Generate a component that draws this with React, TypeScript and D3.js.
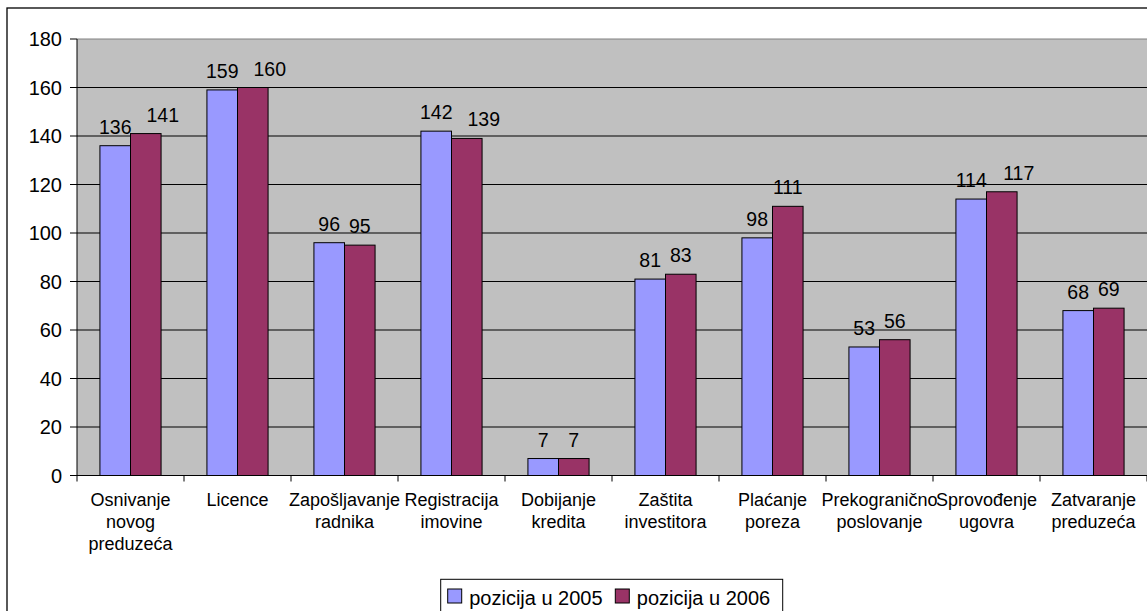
import React from "react";
import * as d3 from "d3";

const categories = [
  "Osnivanje\nnovog\npreduzeća",
  "Licence",
  "Zapošljavanje\nradnika",
  "Registracija\nimovine",
  "Dobijanje\nkredita",
  "Zaštita\ninvestitora",
  "Plaćanje\nporeza",
  "Prekogranično\nposlovanje",
  "Sprovođenje\nugovra",
  "Zatvaranje\npreduzeća",
];
const pozicija2005 = [136, 159, 96, 142, 7, 81, 98, 53, 114, 68];
const pozicija2006 = [141, 160, 95, 139, 7, 83, 111, 56, 117, 69];
const seriesNames = ["pozicija u 2005", "pozicija u 2006"];
const seriesColors = ["#9999FF", "#993366"];
const yTicks = [0, 20, 40, 60, 80, 100, 120, 140, 160, 180];

const W = 1147;
const H = 611;
const plot = { left: 77, right: 1147, top: 39, bottom: 475.5 };
const font = "'Liberation Sans', Arial, sans-serif";
const labelSize = 19.5;

export default function App() {
  const x = d3
    .scaleBand<number>()
    .domain(d3.range(categories.length))
    .range([plot.left, plot.right]);
  const y = d3.scaleLinear().domain([0, 180]).range([plot.bottom, plot.top]);
  const step = x.bandwidth();
  const barW = step / 3.5; // gap width 150%
  const series = [pozicija2005, pozicija2006];

  // width estimate for numeric labels (Arial digit = 0.556em)
  const textW = (v: number) => String(v).length * 0.556 * labelSize;

  const labels: { x: number; y: number; v: number }[] = [];
  categories.forEach((_, i) => {
    const c = (x(i) as number) + step / 2;
    const bx = c - barW / 2;
    const rx = c + barW / 2;
    const a = pozicija2005[i];
    const b = pozicija2006[i];
    labels.push({ x: bx, y: y(a) - 12, v: a });
    let lx = rx;
    const aRight = bx + textW(a) / 2;
    const bLeft = rx - textW(b) / 2;
    const vOverlap = Math.abs(y(a) - y(b)) < 20;
    if (vOverlap && bLeft < aRight + 3) lx = aRight + 15 + textW(b) / 2;
    labels.push({ x: lx, y: y(b) - 12, v: b });
  });

  return (
    <svg
      width={W}
      height={H}
      style={{ position: "absolute", left: 0, top: 0, background: "#fff" }}
      fontFamily={font}
    >
      <rect x={7} y={8} width={1300} height={800} fill="#fff" stroke="#000" strokeWidth={1.3} />
      <rect
        x={plot.left}
        y={plot.top}
        width={plot.right - plot.left}
        height={plot.bottom - plot.top}
        fill="#C0C0C0"
      />
      {yTicks.map((t) => (
        <g key={t}>
          {t > 0 && (
            <line
              x1={plot.left}
              x2={plot.right}
              y1={y(t)}
              y2={y(t)}
              stroke={t === 180 ? "#808080" : "#000"}
              strokeWidth={1}
            />
          )}
          <line x1={plot.left - 7} x2={plot.left} y1={y(t)} y2={y(t)} stroke="#000" />
          <text x={62} y={y(t) + 7} textAnchor="end" fontSize={20} fill="#000">
            {t}
          </text>
        </g>
      ))}
      {series.map((vals, s) =>
        vals.map((v, i) => {
          const c = (x(i) as number) + step / 2;
          return (
            <rect
              key={`${s}-${i}`}
              x={c - barW + s * barW}
              y={y(v)}
              width={barW}
              height={plot.bottom - y(v)}
              fill={seriesColors[s]}
              stroke="#000"
              strokeWidth={1}
            />
          );
        })
      )}
      <line x1={plot.left} x2={plot.left} y1={plot.top} y2={plot.bottom} stroke="#000" />
      <line x1={plot.left} x2={plot.right} y1={plot.bottom} y2={plot.bottom} stroke="#000" />
      {d3.range(categories.length + 1).map((i) => {
        const tx = plot.left + i * step;
        return <line key={i} x1={tx} x2={tx} y1={plot.bottom} y2={plot.bottom + 6} stroke="#000" />;
      })}
      {labels.map((l, i) => (
        <text key={i} x={l.x} y={l.y} textAnchor="middle" fontSize={labelSize} fill="#000">
          {l.v}
        </text>
      ))}
      {categories.map((c, i) => (
        <text
          key={i}
          x={(x(i) as number) + step / 2}
          y={505.5}
          textAnchor="middle"
          fontSize={18}
          fill="#000"
        >
          {c.split("\n").map((line, j) => (
            <tspan key={j} x={(x(i) as number) + step / 2} dy={j === 0 ? 0 : 22}>
              {line}
            </tspan>
          ))}
        </text>
      ))}
      <g>
        <rect x={440.7} y={579.3} width={342} height={50} fill="#fff" stroke="#000" strokeWidth={1} />
        {seriesNames.map((n, s) => {
          const lx = 447.7 + s * 167.6;
          return (
            <g key={n}>
              <rect x={lx} y={589} width={14} height={14} fill={seriesColors[s]} stroke="#000" strokeWidth={1} />
              <text x={lx + 21.5} y={604.5} fontSize={20} fill="#000">
                {n}
              </text>
            </g>
          );
        })}
      </g>
    </svg>
  );
}
